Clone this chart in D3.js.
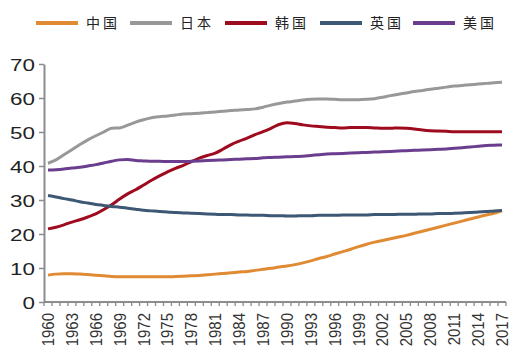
<!DOCTYPE html>
<html>
<head>
<meta charset="utf-8">
<script src="https://cdn.jsdelivr.net/npm/d3@7"></script>
<style>
  body { margin: 0; background: #fff; }
  svg { display: block; }
</style>
</head>
<body>
<div id="chart"></div>
<script>
const years = d3.range(1960, 2018);
const yTicks = [0, 10, 20, 30, 40, 50, 60, 70];
const seriesNames = ["中国", "日本", "韩国", "英国", "美国"];
const seriesColors = ["#E08B34", "#989898", "#9E0B1F", "#3C5874", "#6A3D8E"];

const china = [7.9, 8.2, 8.3, 8.3, 8.2, 8.1, 7.9, 7.7, 7.5, 7.4,
  7.4, 7.4, 7.4, 7.4, 7.4, 7.4, 7.5, 7.6, 7.7, 7.8,
  8.0, 8.2, 8.4, 8.6, 8.8, 9.0, 9.3, 9.6, 9.9, 10.3,
  10.6, 11.0, 11.5, 12.1, 12.8, 13.4, 14.1, 14.8, 15.5, 16.3,
  17.0, 17.6, 18.1, 18.6, 19.1, 19.6, 20.2, 20.8, 21.4, 22.0,
  22.6, 23.2, 23.8, 24.4, 25.0, 25.6, 26.1, 26.9];
const japan = [40.8, 41.8, 43.3, 44.8, 46.3, 47.7, 48.9, 50.0, 51.1, 51.2,
  52.0, 52.9, 53.6, 54.2, 54.5, 54.7, 55.0, 55.3, 55.4, 55.5,
  55.7, 55.9, 56.1, 56.3, 56.5, 56.6, 56.8, 57.3, 57.9, 58.4,
  58.8, 59.1, 59.4, 59.6, 59.7, 59.7, 59.6, 59.5, 59.5, 59.5,
  59.6, 59.8, 60.2, 60.7, 61.1, 61.5, 61.9, 62.2, 62.6, 62.9,
  63.2, 63.5, 63.7, 63.9, 64.1, 64.3, 64.5, 64.6];
const korea = [21.5, 22.0, 22.7, 23.5, 24.2, 25.0, 25.9, 27.2, 28.6, 30.3,
  31.8, 33.0, 34.4, 35.8, 37.1, 38.3, 39.3, 40.2, 41.3, 42.3,
  43.1, 43.8, 45.0, 46.3, 47.3, 48.2, 49.2, 50.1, 51.1, 52.2,
  52.7, 52.5, 52.1, 51.8, 51.6, 51.4, 51.3, 51.2, 51.3, 51.3,
  51.3, 51.2, 51.1, 51.1, 51.2, 51.1, 50.9, 50.6, 50.4, 50.3,
  50.2, 50.1, 50.1, 50.1, 50.1, 50.1, 50.1, 50.1];
const uk = [31.3, 30.9, 30.4, 30.0, 29.5, 29.1, 28.7, 28.4, 28.1, 27.9,
  27.6, 27.3, 27.0, 26.8, 26.6, 26.5, 26.3, 26.2, 26.1, 26.0,
  25.9, 25.8, 25.7, 25.7, 25.6, 25.6, 25.5, 25.5, 25.4, 25.4,
  25.3, 25.3, 25.4, 25.4, 25.5, 25.5, 25.5, 25.6, 25.6, 25.6,
  25.6, 25.7, 25.7, 25.7, 25.8, 25.8, 25.8, 25.9, 25.9, 26.0,
  26.0, 26.1, 26.2, 26.3, 26.5, 26.6, 26.8, 26.9];
const usa = [38.8, 38.9, 39.1, 39.4, 39.6, 40.0, 40.4, 40.9, 41.4, 41.8,
  41.9, 41.6, 41.5, 41.4, 41.4, 41.3, 41.3, 41.3, 41.4, 41.5,
  41.6, 41.7, 41.8, 41.9, 42.0, 42.1, 42.2, 42.4, 42.5, 42.6,
  42.7, 42.8, 42.9, 43.1, 43.3, 43.5, 43.6, 43.7, 43.8, 43.9,
  44.0, 44.1, 44.2, 44.3, 44.4, 44.5, 44.6, 44.7, 44.8, 44.9,
  45.0, 45.2, 45.4, 45.6, 45.8, 46.0, 46.1, 46.2];

const seriesValues = [china, japan, korea, uk, usa];

const width = 516, height = 361;
const margin = {top: 64, right: 10, bottom: 59, left: 44};
const axisColor = "#8c8c8c";

const svg = d3.select("#chart")
  .append("svg")
  .attr("width", width)
  .attr("height", height);

const x = d3.scaleBand()
  .domain(years)
  .range([margin.left, width - margin.right]);

const y = d3.scaleLinear()
  .domain([0, 70])
  .range([height - margin.bottom, margin.top]);

// y axis
const yAxis = svg.append("g")
  .attr("transform", `translate(${margin.left},0)`)
  .call(d3.axisLeft(y).tickValues(yTicks).tickSize(5).tickSizeOuter(0).tickFormat(d3.format("d")));
yAxis.select(".domain").attr("stroke", axisColor).attr("stroke-width", 2);
yAxis.selectAll(".tick line").attr("stroke", axisColor).attr("stroke-width", 1.5);
yAxis.selectAll(".tick text")
  .attr("x", null)
  .attr("dy", null)
  .attr("text-anchor", "end")
  .attr("font-family", "Liberation Sans, Arial, sans-serif")
  .attr("font-size", 16)
  .attr("fill", "#222")
  .attr("transform", "translate(-9,6) scale(1.4,1)");

// x axis: ticks between categories, labels at centres
const xAxisG = svg.append("g")
  .attr("transform", `translate(0,${y(0)})`);
xAxisG.append("line")
  .attr("x1", margin.left).attr("x2", width - margin.right)
  .attr("stroke", axisColor).attr("stroke-width", 2);
xAxisG.selectAll("line.tk")
  .data(years.concat([2018]))
  .join("line")
  .attr("class", "tk")
  .attr("x1", d => d === 2018 ? x(2017) + x.bandwidth() : x(d))
  .attr("x2", d => d === 2018 ? x(2017) + x.bandwidth() : x(d))
  .attr("y1", 0).attr("y2", 4)
  .attr("stroke", axisColor).attr("stroke-width", 1.3);
xAxisG.selectAll("text")
  .data(years.filter(d => (d - 1960) % 3 === 0))
  .join("text")
  .attr("transform", d => `translate(${x(d) + x.bandwidth() / 2},11) rotate(-90) scale(1,1.1)`)
  .attr("text-anchor", "end")
  .attr("dy", "0.36em")
  .attr("font-family", "Liberation Sans, Arial, sans-serif")
  .attr("font-size", 15)
  .attr("fill", "#333")
  .text(d => d);

// lines
const line = d3.line()
  .x((d, i) => x(years[i]) + x.bandwidth() / 2)
  .y(d => y(d))
  .curve(d3.curveMonotoneX);

svg.append("g")
  .selectAll("path")
  .data(seriesValues)
  .join("path")
  .attr("fill", "none")
  .attr("stroke", (d, i) => seriesColors[i])
  .attr("stroke-width", 3)
  .attr("stroke-linejoin", "round")
  .attr("d", line);

// legend
const legendX = [36, 130, 225, 320, 413];
const legend = svg.append("g")
  .selectAll("g")
  .data(seriesNames)
  .join("g")
  .attr("transform", (d, i) => `translate(${legendX[i]},23)`);
legend.append("line")
  .attr("x1", 0).attr("x2", 42)
  .attr("stroke", (d, i) => seriesColors[i])
  .attr("stroke-width", 4);
legend.append("text")
  .attr("x", 50)
  .attr("dy", "0.36em")
  .attr("font-family", "Noto Sans CJK SC, sans-serif")
  .attr("font-size", 14)
  .attr("letter-spacing", 3)
  .attr("fill", "#222")
  .text(d => d);
</script>
</body>
</html>
